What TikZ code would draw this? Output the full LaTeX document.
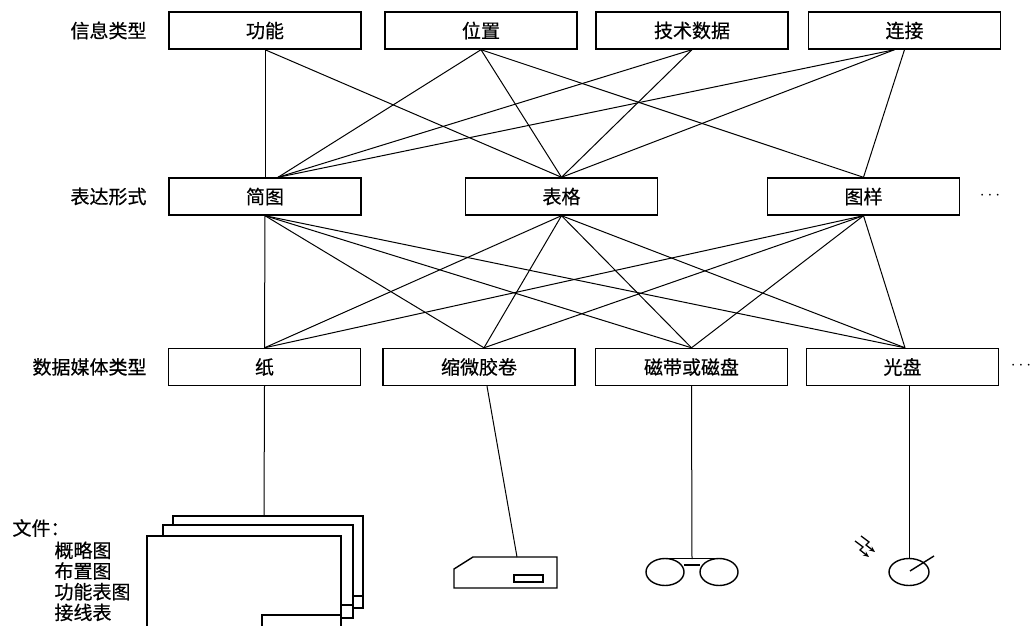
\documentclass[tikz,border=0pt]{standalone}
\usepackage{fontspec}
\setmainfont{Noto Sans CJK SC}[FakeBold=0.5]
\usetikzlibrary{arrows.meta}

\begin{document}
\begin{tikzpicture}[x=1pt, y=-1pt, line width=1pt, font=\fontsize{19}{20.7}\selectfont]
   \fill[white] (0,0) rectangle (1031,626);
   \useasboundingbox (0,0) rectangle (1031,626);
   \begin{scope}[every node/.style={draw, line width=1.4pt, minimum width=192pt, minimum height=37pt, inner sep=0pt}]
    \node (gn) at (265,30.5) {功能};
    \node (wz) at (481,30.5) {位置};
    \node (js) at (692,30.5) {技术数据};
    \node (lj) at (904.5,30.5) {连接};
    \node (jt) at (265,196.5) {简图};
    \node (bg) at (561.5,196.5) {表格};
    \node (ty) at (863.5,196.5) {图样};
    \node (zh) at (264.5,367) {纸};
    \node (sw) at (479,367) {缩微胶卷};
    \node (cd) at (691.5,367) {磁带或磁盘};
    \node (gp) at (902.5,367) {光盘};
   \end{scope}
   \begin{scope}[every node/.style={anchor=east, inner sep=0pt}]
    \node (xxlx) at (147,30.5) {信息类型};
    \node (bdxs) at (147,196.5) {表达形式};
    \node (mtlx) at (147,367) {数据媒体类型};
   \end{scope}
   \node (more1) at (990,196) {$\cdots$};
   \node (more2) at (1021,366) {$\cdots$};
   \node[anchor=west, inner sep=0pt] (wj) at (12,528) {文件：};
   \node[anchor=north west, align=left, inner sep=0pt] (wjlb) at (54,541) {概略图\\布置图\\功能表图\\接线表};
   \coordinate (doc) at (264,516);
   \coordinate (mf) at (517,557);
   \coordinate (tp) at (692,559);
   \coordinate (od) at (909,559);
   \begin{scope}[every edge/.style={draw=black, line width=1pt}]
    \draw (gn.south) edge (jt.north);
    \draw (gn.south) edge (bg.north);
    \draw (wz.south) edge ([xshift=13pt]jt.north);
    \draw (wz.south) edge (bg.north);
    \draw (wz.south) edge (ty.north);
    \draw (js.south) edge ([xshift=13pt]jt.north);
    \draw (js.south) edge (bg.north);
    \draw ([xshift=-10pt]lj.south) edge ([xshift=13pt]jt.north);
    \draw ([xshift=-10pt]lj.south) edge (bg.north);
    \draw (lj.south) edge (ty.north);
    \draw (jt.south) edge (zh.north);
    \draw (jt.south) edge ([xshift=5pt]sw.north);
    \draw (jt.south) edge (cd.north);
    \draw (jt.south) edge ([xshift=2.5pt]gp.north);
    \draw (bg.south) edge (zh.north);
    \draw (bg.south) edge ([xshift=5pt]sw.north);
    \draw (bg.south) edge (cd.north);
    \draw (bg.south) edge ([xshift=2.5pt]gp.north);
    \draw (ty.south) edge (zh.north);
    \draw (ty.south) edge ([xshift=5pt]sw.north);
    \draw (ty.south) edge (cd.north);
    \draw (ty.south) edge ([xshift=2.5pt]gp.north);
    \draw (zh.south) edge (doc);
    \draw ([xshift=8pt]sw.south) edge (mf);
    \draw (cd.south) edge (tp);
    \draw ([xshift=6.5pt]gp.south) edge (od);
   \end{scope}
   \begin{scope}[line width=1.4pt]
    \filldraw[fill=white] (173,516) rectangle (363,608);
    \draw (173,596) -- (363,596);
    \filldraw[fill=white] (163,525) rectangle (353,618);
    \draw (163,605) -- (353,605);
    \fill[white] (147,536) rectangle (341,626);
    \draw (147,626) -- (147,536) -- (341,536) -- (341,626);
    \draw (262,626) -- (262,615) -- (341,615);
    \draw (454,569) -- (473,557) -- (557,557) -- (557,588) -- (454,588) -- cycle;
    \draw (514,575) rectangle (543,582);
    \draw (665,572) ellipse [x radius=19pt, y radius=13.5pt];
    \draw (719,572) ellipse [x radius=19pt, y radius=13.5pt];
    \draw (665,558.5) -- (719,558.5);
    \draw (684,565) -- (700,565);
    \draw (909,572) ellipse [x radius=20pt, y radius=13.5pt];
    \draw (910,571) -- (934,556);
    \draw[-{Stealth[length=6pt,width=5pt]}, line width=1.3pt] (855,541) -- (863,547) -- (860,550) -- (869,557);
    \draw[-{Stealth[length=6pt,width=5pt]}, line width=1.3pt] (861,536) -- (869,542) -- (866,545) -- (875,552);
   \end{scope}
\end{tikzpicture}
\end{document}
